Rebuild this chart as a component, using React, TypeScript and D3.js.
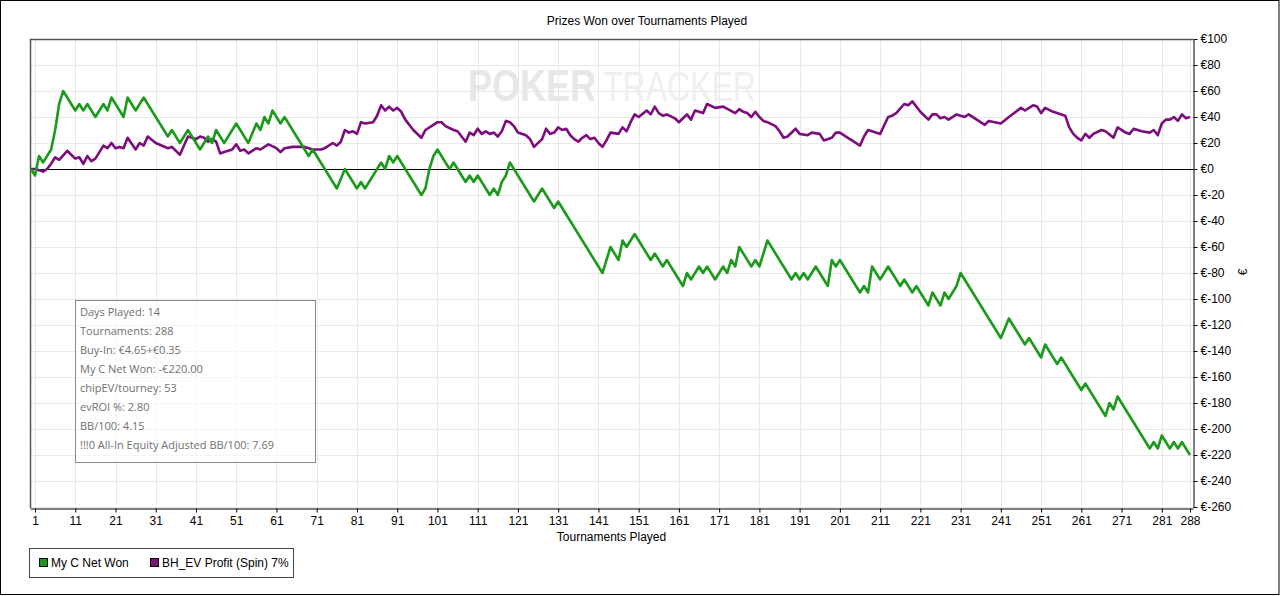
import React, { useRef, useEffect } from 'react';
import * as d3 from 'd3';

// tournament number, cumulative € (at the turning points)
const netWon: [number, number][] = [
  [0, 0], [1, -5], [2, 10], [3, 5], [4, 10], [5, 15], [6, 30], [7, 50], [8, 60], [11, 45],
  [12, 50], [13, 45], [14, 50], [16, 40], [18, 50], [19, 45], [20, 55], [23, 40], [24, 55], [26, 45],
  [28, 55], [34, 25], [35, 30], [37, 20], [39, 30], [42, 15], [44, 25], [45, 20], [46, 30], [48, 20],
  [51, 35], [54, 20], [56, 35], [57, 30], [58, 40], [59, 35], [60, 45], [62, 35], [63, 40], [69, 10],
  [70, 15], [76, -15], [78, 0], [81, -15], [82, -10], [83, -15], [86, 0], [87, 5], [88, 0], [89, 10],
  [90, 5], [91, 10], [97, -20], [98, -15], [99, 0], [100, 10], [101, 15], [104, 0], [105, 5], [108, -10],
  [109, -5], [110, -10], [111, -5], [114, -20], [115, -15], [116, -20], [117, -10], [118, -5], [119, 5], [125, -25],
  [127, -15], [130, -30], [131, -25], [142, -80], [144, -60], [146, -70], [147, -55], [148, -60], [150, -50], [154, -70],
  [155, -65], [157, -75], [158, -70], [162, -90], [163, -80], [164, -85], [166, -75], [167, -80], [168, -75], [170, -85],
  [172, -75], [173, -80], [174, -70], [175, -75], [176, -60], [179, -75], [180, -70], [181, -75], [183, -55], [189, -85],
  [190, -80], [191, -85], [192, -80], [193, -85], [195, -75], [198, -90], [199, -70], [200, -75], [201, -70], [206, -95],
  [207, -90], [208, -95], [209, -75], [211, -85], [213, -75], [216, -90], [217, -85], [219, -95], [220, -90], [223, -105],
  [224, -95], [226, -105], [227, -95], [228, -100], [230, -90], [231, -80], [241, -130], [243, -115], [247, -135], [248, -130],
  [251, -145], [252, -135], [255, -150], [256, -145], [261, -170], [262, -165], [267, -190], [268, -180], [269, -185], [270, -175],
  [278, -215], [279, -210], [280, -215], [281, -205], [283, -215], [284, -210], [285, -215], [286, -210], [288, -220],
];

const evProfit: [number, number][] = [
  [0, 0], [1, 0], [2, -1], [3, -2], [4, 0], [5, 4], [6, 9], [7, 7], [9, 14], [10, 11],
  [11, 8], [12, 9], [13, 4], [14, 10], [15, 6], [16, 8], [18, 18], [19, 16], [20, 20], [21, 16],
  [22, 17], [23, 16], [24, 24], [26, 15], [27, 20], [28, 18], [29, 25], [31, 20], [34, 16], [35, 17],
  [37, 11], [39, 25], [40, 24], [41, 23], [42, 25], [43, 24], [44, 21], [45, 23], [46, 21], [47, 12],
  [48, 13], [49, 14], [50, 15], [51, 19], [52, 14], [53, 15], [54, 12], [56, 16], [57, 15], [59, 19],
  [61, 16], [62, 13], [63, 16], [65, 17], [68, 17], [70, 15], [72, 15], [73, 16], [75, 20], [76, 18],
  [77, 21], [78, 30], [79, 28], [80, 29], [81, 27], [82, 36], [83, 35], [85, 36], [86, 41], [87, 49],
  [88, 45], [89, 48], [90, 45], [91, 47], [92, 44], [93, 38], [95, 30], [97, 24], [98, 30], [100, 34],
  [101, 36], [102, 36], [103, 33], [105, 30], [106, 29], [108, 21], [109, 28], [110, 26], [111, 31], [112, 27],
  [113, 29], [114, 27], [115, 28], [116, 25], [117, 29], [118, 37], [119, 36], [120, 33], [121, 28], [123, 26],
  [124, 23], [125, 17], [127, 23], [128, 31], [129, 27], [130, 28], [131, 32], [132, 30], [133, 31], [134, 26],
  [135, 23], [136, 21], [137, 24], [138, 26], [139, 23], [140, 24], [141, 20], [142, 17], [143, 22], [144, 28],
  [146, 27], [147, 32], [148, 29], [149, 36], [150, 42], [151, 40], [153, 45], [154, 42], [155, 48], [156, 43],
  [157, 41], [158, 42], [160, 39], [161, 36], [162, 39], [163, 42], [164, 38], [165, 45], [166, 44], [167, 43],
  [168, 50], [170, 47], [172, 48], [175, 43], [176, 46], [177, 44], [178, 43], [179, 40], [180, 44], [181, 40],
  [182, 37], [183, 36], [185, 33], [186, 29], [187, 24], [188, 25], [190, 31], [191, 27], [193, 26], [194, 28],
  [196, 27], [197, 22], [199, 24], [200, 28], [201, 28], [203, 24], [204, 22], [206, 18], [207, 25], [208, 30],
  [209, 29], [211, 27], [213, 40], [214, 41], [215, 43], [217, 50], [218, 49], [219, 52], [221, 44], [223, 38],
  [224, 42], [225, 42], [226, 39], [227, 40], [228, 38], [230, 42], [232, 40], [233, 42], [235, 38], [237, 34],
  [238, 37], [241, 35], [243, 40], [246, 47], [247, 45], [249, 49], [250, 48], [251, 43], [252, 47], [254, 44],
  [257, 41], [258, 32], [259, 27], [260, 24], [261, 22], [262, 27], [263, 24], [264, 27], [266, 30], [267, 29],
  [269, 24], [270, 32], [272, 28], [273, 27], [274, 31], [276, 29], [278, 28], [279, 30], [280, 26], [281, 35],
  [282, 38], [283, 38], [284, 40], [285, 37], [286, 42], [287, 39], [288, 40],
];

const xTicks = [1, 11, 21, 31, 41, 51, 61, 71, 81, 91, 101, 111, 121, 131, 141, 151, 161, 171, 181, 191, 201, 211, 221, 231, 241, 251, 261, 271, 281, 288];
const yTicks = [100, 80, 60, 40, 20, 0, -20, -40, -60, -80, -100, -120, -140, -160, -180, -200, -220, -240, -260];

const seriesNames = ['My C Net Won', 'BH_EV Profit (Spin) 7%'];
const seriesColors = ['#1b9a1b', '#7d0c7d'];

const infoLines = [
  'Days Played: 14',
  'Tournaments: 288',
  'Buy-In: €4.65+€0.35',
  'My C Net Won: -€220.00',
  'chipEV/tourney: 53',
  'evROI %: 2.80',
  'BB/100: 4.15',
  '!!!0 All-In Equity Adjusted BB/100: 7.69',
];

const FONT = '"Liberation Sans", Arial, sans-serif';

export default function App() {
  const svgRef = useRef<SVGSVGElement>(null);

  useEffect(() => {
    const svg = d3.select(svgRef.current);
    svg.selectAll('*').remove();

    const width = 1280;
    const height = 596;
    const plot = { left: 30, top: 39, right: 1193, bottom: 507 };

    const x = d3.scaleLinear().domain([-0.25, 288.75]).range([plot.left, plot.right]);
    const y = d3.scaleLinear().domain([-260, 100]).range([plot.bottom, plot.top]);

    svg.append('rect').attr('width', width).attr('height', height).attr('fill', '#fff');
    // outer frame
    svg.append('rect')
      .attr('x', 0.5).attr('y', 0.5).attr('width', width - 1.5).attr('height', height - 2)
      .attr('fill', 'none').attr('stroke', '#000');

    // title
    svg.append('text')
      .attr('x', 647).attr('y', 25)
      .attr('text-anchor', 'middle')
      .attr('font-family', FONT).attr('font-size', 12)
      .text('Prizes Won over Tournaments Played');

    // grid
    const grid = svg.append('g').attr('stroke', '#e9e9e9').attr('stroke-width', 1);
    yTicks.forEach(v => {
      grid.append('line')
        .attr('x1', plot.left).attr('x2', plot.right)
        .attr('y1', Math.round(y(v)) + 0.5).attr('y2', Math.round(y(v)) + 0.5);
    });
    xTicks.forEach(t => {
      grid.append('line')
        .attr('x1', Math.round(x(t)) + 0.5).attr('x2', Math.round(x(t)) + 0.5)
        .attr('y1', plot.top).attr('y2', plot.bottom);
    });

    // watermark (stretched vertically instead of squeezed, so glyph boxes stay apart)
    svg.append('text')
      .attr('transform', 'translate(468,101) scale(1,1.22)')
      .attr('font-family', FONT).attr('font-size', 36).attr('font-weight', 'bold')
      .attr('fill', '#e7e7e7')
      .text('POKER');
    svg.append('text')
      .attr('transform', 'translate(603,101) scale(1,1.35)')
      .attr('font-family', FONT).attr('font-size', 32)
      .attr('fill', '#efefef')
      .text('TRACKER');

    // zero line
    svg.append('line')
      .attr('x1', plot.left).attr('x2', plot.right)
      .attr('y1', Math.round(y(0)) + 0.5).attr('y2', Math.round(y(0)) + 0.5)
      .attr('stroke', '#000');

    // plot frame (top / left)
    svg.append('path')
      .attr('d', `M${plot.left + 0.5},${plot.bottom + 1}V${plot.top + 0.5}H${plot.right}`)
      .attr('fill', 'none').attr('stroke', '#555').attr('stroke-width', 1.5);

    // series
    const line = d3.line<[number, number]>()
      .x(d => x(d[0]))
      .y(d => y(d[1]));

    [evProfit, netWon].forEach((data, i) => {
      const color = i === 0 ? seriesColors[1] : seriesColors[0];
      svg.append('path')
        .attr('d', line(data) || '')
        .attr('fill', 'none')
        .attr('stroke', color)
        .attr('stroke-width', 2.6)
        .attr('stroke-linejoin', 'round');
    });

    // right axis
    const yAxis = svg.append('g')
      .attr('transform', `translate(${plot.right + 0.5},0)`)
      .call(d3.axisRight(y).tickValues(yTicks).tickSize(4).tickSizeOuter(0).tickPadding(3)
        .tickFormat(d => '€' + d));
    yAxis.selectAll('text').attr('font-family', FONT).attr('font-size', 12).attr('fill', '#000');
    yAxis.selectAll('line, path').attr('stroke', '#000');

    svg.append('text')
      .attr('transform', 'translate(1247,272) rotate(-90)')
      .attr('text-anchor', 'middle')
      .attr('font-family', FONT).attr('font-size', 12)
      .text('€');

    // bottom axis
    const xAxis = svg.append('g')
      .attr('transform', `translate(0,${plot.bottom + 1.5})`)
      .call(d3.axisBottom(x).tickValues(xTicks).tickSize(4).tickSizeOuter(0).tickPadding(4));
    xAxis.selectAll('text').attr('font-family', FONT).attr('font-size', 12).attr('fill', '#000');
    xAxis.selectAll('line, path').attr('stroke', '#000');

    svg.append('text')
      .attr('x', (plot.left + plot.right) / 2).attr('y', 541)
      .attr('text-anchor', 'middle')
      .attr('font-family', FONT).attr('font-size', 12)
      .text('Tournaments Played');

    // info box
    svg.append('rect')
      .attr('x', 75.5).attr('y', 300.5).attr('width', 240).attr('height', 162)
      .attr('fill', '#fff').attr('fill-opacity', 0.55)
      .attr('stroke', '#8a8a8a');
    infoLines.forEach((s, i) => {
      svg.append('text')
        .attr('x', 80).attr('y', 316 + i * 19.05)
        .attr('font-family', '"Open Sans", "Noto Sans", sans-serif').attr('font-size', 11)
        .attr('fill', '#707070')
        .text(s);
    });

    // legend
    svg.append('rect')
      .attr('x', 29.5).attr('y', 548.5).attr('width', 264).attr('height', 29)
      .attr('fill', '#fff').attr('stroke', '#444');
    const legendX = [39, 150];
    seriesNames.forEach((name, i) => {
      svg.append('rect')
        .attr('x', legendX[i] + 0.5).attr('y', 558.5).attr('width', 8).attr('height', 8)
        .attr('fill', seriesColors[i]).attr('stroke', '#000');
      svg.append('text')
        .attr('x', legendX[i] + 12).attr('y', 567)
        .attr('font-family', FONT).attr('font-size', 12)
        .text(name);
    });
  }, []);

  return (
    <svg ref={svgRef} width={1280} height={596}
      style={{ position: 'absolute', left: 0, top: 0, display: 'block' }} />
  );
}
